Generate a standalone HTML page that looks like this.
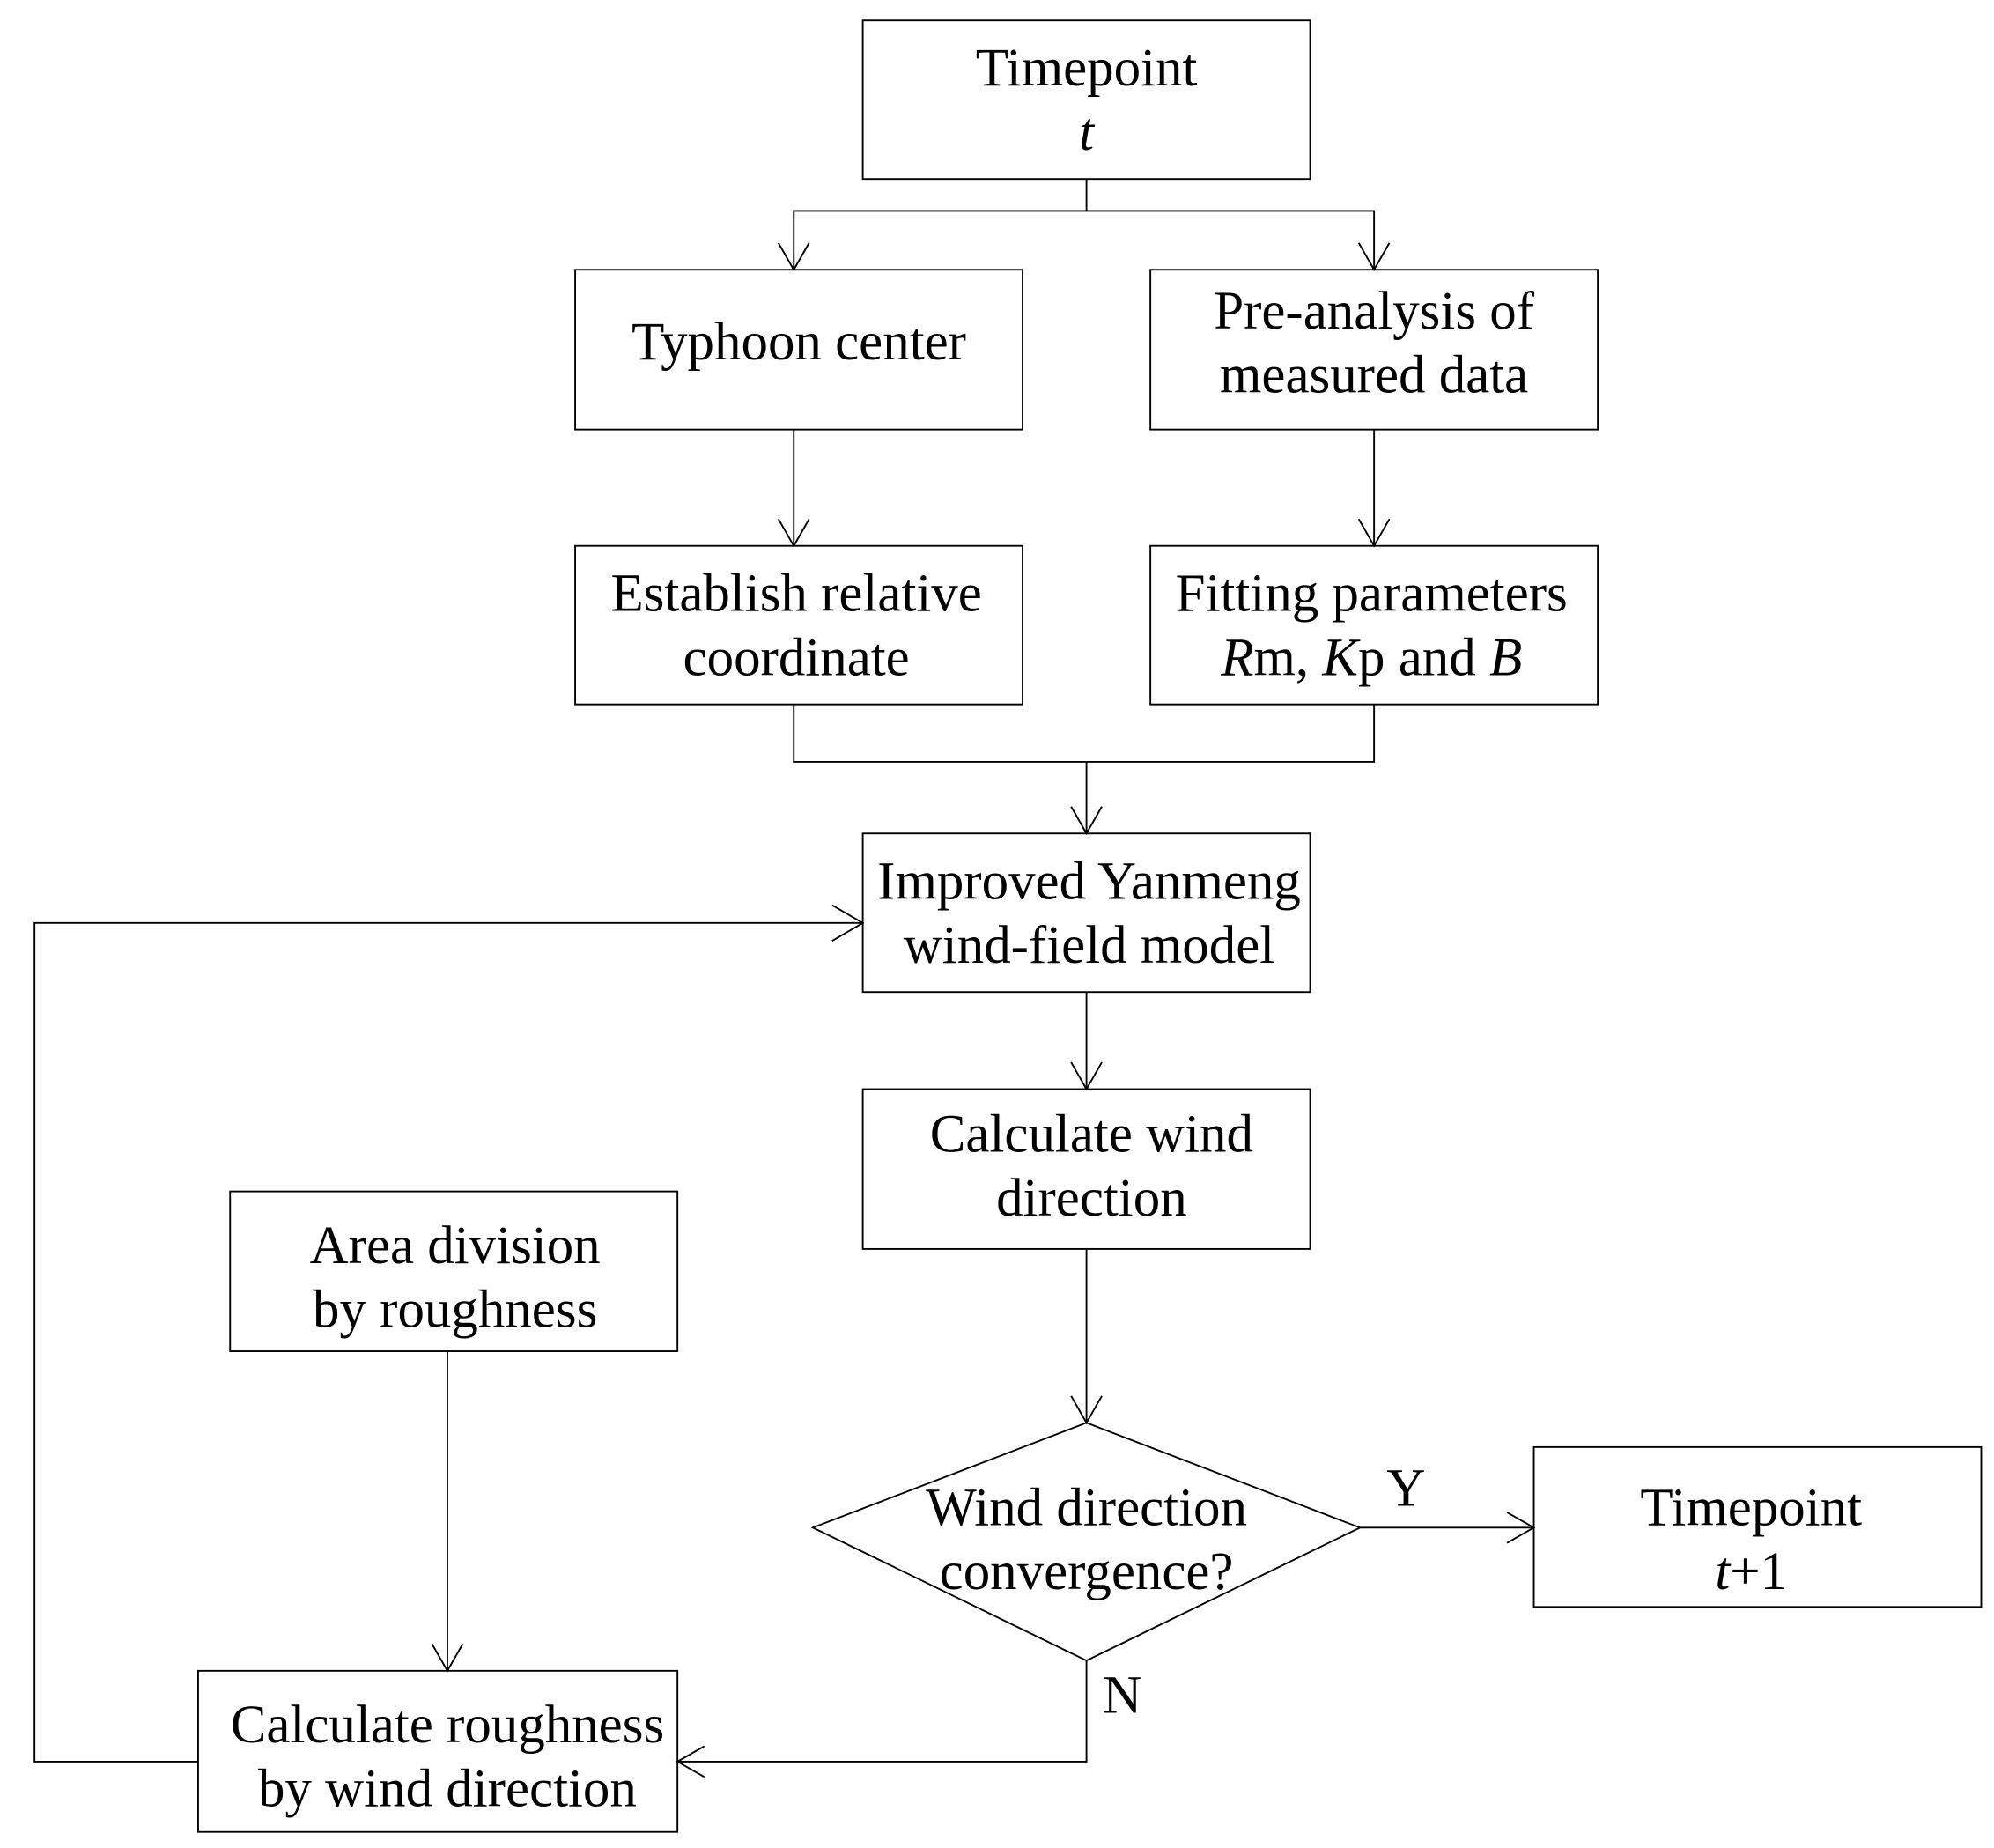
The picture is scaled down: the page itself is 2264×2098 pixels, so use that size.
<!DOCTYPE html>
<html><head><meta charset="utf-8"><style>
html,body{margin:0;padding:0;background:#fff;}
svg{display:block;}
text{font-family:"Liberation Serif",serif;font-size:42px;fill:#000;text-anchor:middle;}
</style></head><body>
<svg width="2264" height="2098" viewBox="0 0 1560 1445.6" preserveAspectRatio="none" xmlns="http://www.w3.org/2000/svg">
<g fill="none" stroke="#000" stroke-width="1.3">
<rect x="675" y="16" width="350" height="124"/>
<rect x="450" y="211" width="350" height="125"/>
<rect x="900" y="211" width="350" height="125"/>
<rect x="450" y="427" width="350" height="124"/>
<rect x="900" y="427" width="350" height="124"/>
<rect x="675" y="652" width="350" height="124"/>
<rect x="675" y="852" width="350" height="125"/>
<rect x="180" y="932" width="350" height="125"/>
<polygon points="636,1195 850,1113 1064,1195 850,1299"/>
<rect x="1200" y="1132" width="350" height="125"/>
<rect x="155" y="1307" width="375" height="126"/>
<!-- connectors -->
<polyline points="850,140 850,165"/>
<polyline points="621,211 621,165 1075,165 1075,211"/>
<line x1="621" y1="336" x2="621" y2="427"/>
<line x1="1075" y1="336" x2="1075" y2="427"/>
<polyline points="621,551 621,596 1075,596 1075,551"/>
<line x1="850" y1="596" x2="850" y2="652"/>
<line x1="850" y1="776" x2="850" y2="852"/>
<line x1="850" y1="977" x2="850" y2="1113"/>
<line x1="1064" y1="1195" x2="1200" y2="1195"/>
<polyline points="850,1299 850,1378 530,1378"/>
<line x1="350" y1="1057" x2="350" y2="1307"/>
<polyline points="155,1378 27,1378 27,722 675,722"/>
<!-- arrowheads -->
<polyline points="609,190 621,211 633,190"/>
<polyline points="1063,190 1075,211 1087,190"/>
<polyline points="609,406 621,427 633,406"/>
<polyline points="1063,406 1075,427 1087,406"/>
<polyline points="838,631 850,652 862,631"/>
<polyline points="838,831 850,852 862,831"/>
<polyline points="838,1092 850,1113 862,1092"/>
<polyline points="1179,1183 1200,1195 1179,1207"/>
<polyline points="551,1366 530,1378 551,1390"/>
<polyline points="338,1286 350,1307 362,1286"/>
<polyline points="651,708 675,722 651,736"/>
</g>
<text x="850" y="67">Timepoint</text>
<text x="850" y="117" font-style="italic">t</text>
<text x="625" y="281">Typhoon center</text>
<text x="1075" y="257">Pre-analysis of</text>
<text x="1075" y="307">measured data</text>
<text x="623" y="478">Establish relative</text>
<text x="623" y="528">coordinate</text>
<text x="1073" y="478">Fitting parameters</text>
<text x="1073" y="528"><tspan font-style="italic">R</tspan>m, <tspan font-style="italic">K</tspan>p and <tspan font-style="italic">B</tspan></text>
<text x="852" y="703">Improved Yanmeng</text>
<text x="852" y="753">wind-field model</text>
<text x="854" y="901">Calculate wind</text>
<text x="854" y="951">direction</text>
<text x="356" y="988">Area division</text>
<text x="356" y="1038">by roughness</text>
<text x="850" y="1193">Wind direction</text>
<text x="850" y="1243">convergence?</text>
<text x="1370" y="1193">Timepoint</text>
<text x="1370" y="1243"><tspan font-style="italic">t</tspan>+1</text>
<text x="350" y="1363">Calculate roughness</text>
<text x="350" y="1413">by wind direction</text>
<text x="1100" y="1178">Y</text>
<text x="878" y="1340">N</text>
</svg>
</body></html>
